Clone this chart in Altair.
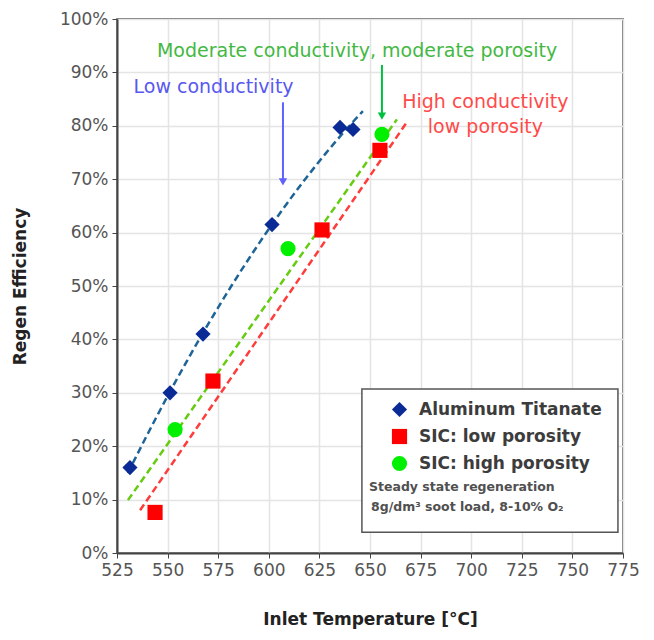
import altair as alt
import pandas as pd

# ---- data ----
series_names = ["Aluminum Titanate", "SIC: low porosity", "SIC: high porosity"]

at_temp = [531.4, 551.2, 567.5, 601.6, 635.2, 641.6]
at_eff = [16.0, 30.0, 41.0, 61.5, 79.7, 79.3]

lo_temp = [543.8, 572.4, 626.3, 654.9]
lo_eff = [7.6, 32.2, 60.5, 75.4]

hi_temp = [553.7, 609.5, 655.9]
hi_eff = [23.1, 57.0, 78.4]

at_extent = [530.4, 646.5]
lo_line_temp = [536.4, 668.8]
lo_line_eff = [8.0, 81.0]
hi_line_temp = [530.4, 663.3]
hi_line_eff = [9.9, 81.2]

x_ticks = [525, 550, 575, 600, 625, 650, 675, 700, 725, 750, 775]
y_ticks = [0, 10, 20, 30, 40, 50, 60, 70, 80, 90, 100]

# annotations
ann_text = ["Low conductivity", "Moderate conductivity, moderate porosity", "High conductivity", "low porosity"]
ann_x = [572.7, 643.6, 707.0, 707.0]
ann_y = [87.2, 94.0, 84.4, 79.7]
ann_color = ["#5858f0", "#44b844", "#ff4a4a", "#ff4a4a"]

arrow_x = [607.0, 655.9]
arrow_top = [84.4, 91.4]
arrow_bottom = [69.5, 81.8]
arrow_color = ["#6060ff", "#00c040"]

box_x = [646.0, 772.5]
box_y = [3.9, 30.7]

note_text = ["Steady state regeneration", "8g/dm\u00b3 soot load, 8-10% O\u2082"]
note_x = [649.5, 650.5]
note_y = [12.3, 8.6]

# ---- tables ----
pts = pd.DataFrame({
    "temp": at_temp + lo_temp + hi_temp,
    "eff": at_eff + lo_eff + hi_eff,
    "series": [series_names[0]] * len(at_temp) + [series_names[1]] * len(lo_temp) + [series_names[2]] * len(hi_temp),
})
lines = pd.DataFrame({
    "temp": lo_line_temp + hi_line_temp,
    "eff": lo_line_eff + hi_line_eff,
    "line": ["lo"] * 2 + ["hi"] * 2,
})
ann = pd.DataFrame({"t": ann_text, "x": ann_x, "y": ann_y, "c": ann_color})
arr = pd.DataFrame({"x": arrow_x, "y": arrow_top, "y2": arrow_bottom, "c": arrow_color})
box = pd.DataFrame({"x": [box_x[0]], "x2": [box_x[1]], "y": [box_y[0]], "y2": [box_y[1]]})
notes = pd.DataFrame({"t": note_text, "x": note_x, "y": note_y})

FONT = "DejaVu Sans"
W, H = 506, 534

xscale = alt.Scale(domain=[525, 775], nice=False, zero=False)
yscale = alt.Scale(domain=[0, 100], nice=False)

xenc = alt.X("temp:Q", scale=xscale, axis=alt.Axis(
    values=x_ticks, title="Inlet Temperature [\u00b0C]", grid=True, labelFlush=False, labelOverlap=False))
yenc = alt.Y("eff:Q", scale=yscale, axis=alt.Axis(
    values=y_ticks, title="Regen Efficiency", grid=True, labelExpr="datum.value + '%'",
    labelFlush=False, labelOverlap=False))

leg = alt.Legend(title=None, orient="none", legendX=274, legendY=382,
                 labelFont=FONT, labelFontSize=17, labelFontWeight="bold",
                 labelColor="#3c3c3c", symbolSize=230, rowPadding=9, labelLimit=400,
                 labelOffset=11, padding=0, symbolStrokeWidth=0)

t_at = alt.Chart(pts).transform_filter(
    alt.datum.series == series_names[0]
).transform_regression("temp", "eff", method="poly", order=2, extent=at_extent).mark_line(
    strokeDash=[7, 4], strokeWidth=2.5, color="#1e6496"
).encode(x=alt.X("temp:Q", scale=xscale), y=alt.Y("eff:Q", scale=yscale))

t_lines = alt.Chart(lines).mark_line(strokeDash=[7, 4], strokeWidth=2.5).encode(
    x=alt.X("temp:Q", scale=xscale), y=alt.Y("eff:Q", scale=yscale),
    detail="line:N",
    color=alt.condition(alt.datum.line == "lo", alt.value("#ff3c3c"), alt.value("#66cc11")),
)

points = alt.Chart(pts).mark_point(filled=True, opacity=1, size=230).encode(
    x=xenc, y=yenc,
    shape=alt.Shape("series:N", scale=alt.Scale(domain=series_names, range=["diamond", "square", "circle"]),
                    legend=leg),
    color=alt.Color("series:N", scale=alt.Scale(domain=series_names, range=["#0a2a96", "#ff0000", "#00f000"]),
                    legend=leg),
)

box_layer = alt.Chart(box).mark_rect(fill="white", stroke="#555555", strokeWidth=1.5).encode(
    x=alt.X("x:Q", scale=xscale), x2="x2:Q",
    y=alt.Y("y:Q", scale=yscale), y2="y2:Q")

notes_layer = alt.Chart(notes).mark_text(align="left", baseline="middle", font=FONT,
                                          fontSize=12.5, fontWeight="bold", color="#505050").encode(
    x=alt.X("x:Q", scale=xscale), y=alt.Y("y:Q", scale=yscale), text="t:N")

ann_layer = alt.Chart(ann).mark_text(align="center", baseline="middle", font=FONT, fontSize=19).encode(
    x=alt.X("x:Q", scale=xscale), y=alt.Y("y:Q", scale=yscale), text="t:N",
    color=alt.Color("c:N", scale=None))

arrow_shaft = alt.Chart(arr).mark_rule(strokeWidth=2).encode(
    x=alt.X("x:Q", scale=xscale), y=alt.Y("y:Q", scale=yscale), y2="y2:Q",
    color=alt.Color("c:N", scale=None))
arrow_head = alt.Chart(arr).mark_point(shape="triangle-down", filled=True, opacity=1, size=70).encode(
    x=alt.X("x:Q", scale=xscale), y=alt.Y("y2:Q", scale=yscale),
    color=alt.Color("c:N", scale=None))

chart = alt.layer(
    box_layer, t_at, t_lines, points, notes_layer, ann_layer, arrow_shaft, arrow_head
).properties(
    width=W, height=H,
    autosize=alt.AutoSizeParams(type="none"),
    padding={"left": 109, "top": 11, "right": 23, "bottom": 79},
).configure_view(stroke="#444444", strokeWidth=1.5).configure_axis(
    labelFont=FONT, labelFontSize=17, labelColor="#555555",
    titleFont=FONT, titleFontSize=17, titleFontWeight="bold", titleColor="#222222",
    domainColor="#444444", domainWidth=2, tickColor="#444444", tickSize=5,
    gridColor="#e4e4e4", gridWidth=1.5, labelPadding=4,
).configure_axisX(titlePadding=33).configure_axisY(titlePadding=30)

chart.save("out.html", embed_options={"renderer": "svg", "actions": False})
